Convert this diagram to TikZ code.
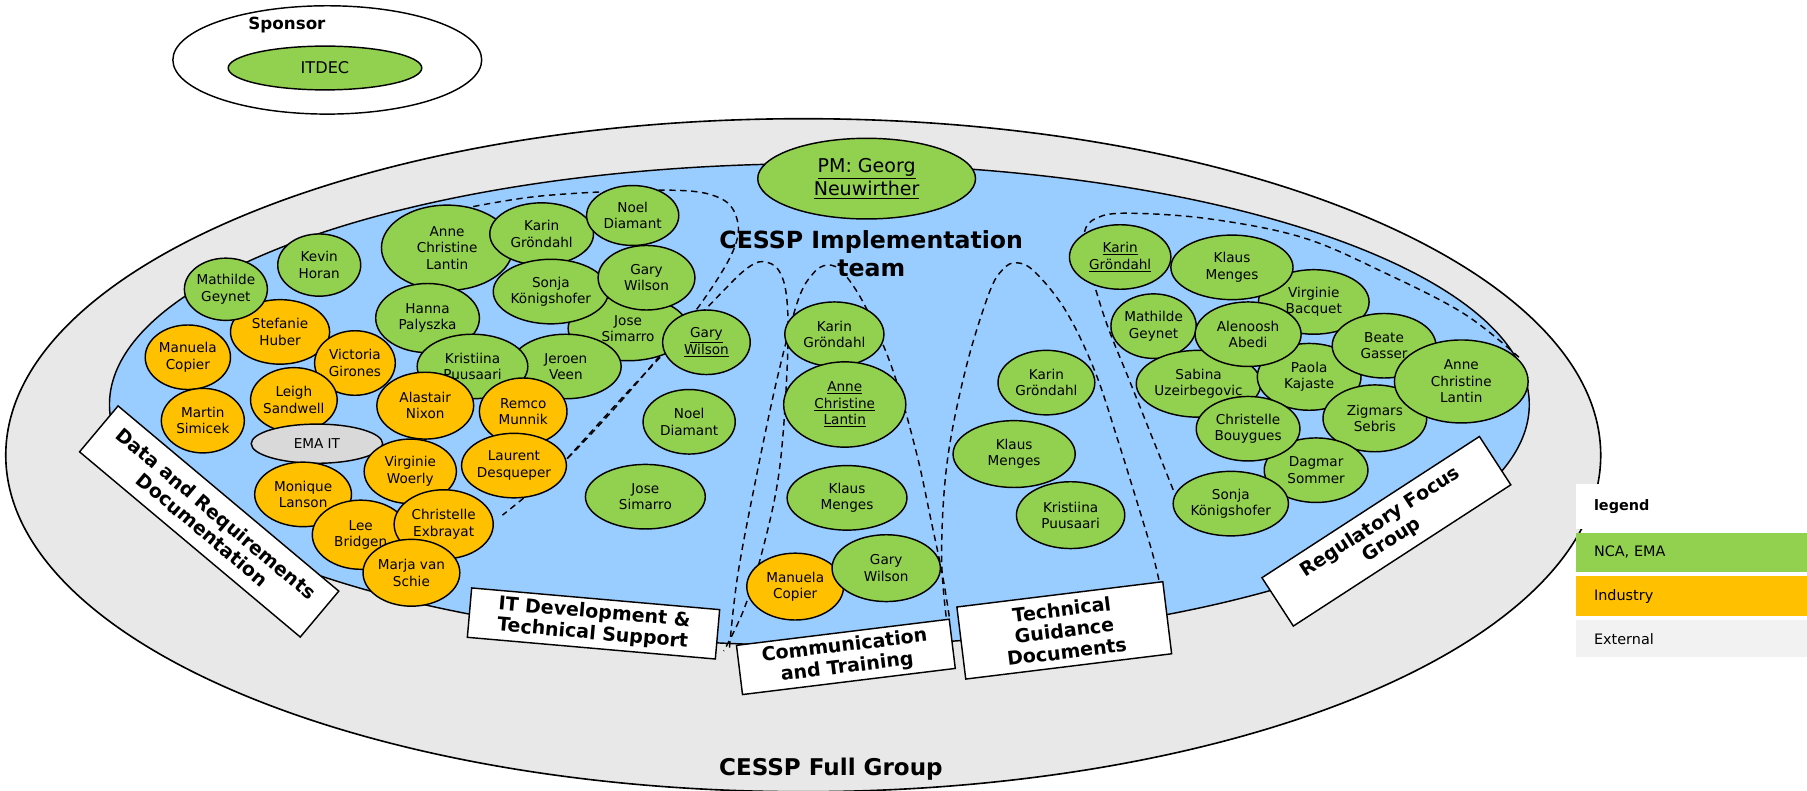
\documentclass[tikz,border=0pt]{standalone}
\usepackage{fontspec}
\setmainfont{DejaVu Sans}
\usetikzlibrary{shapes.geometric}
\definecolor{grn}{HTML}{92D050}
\definecolor{org}{HTML}{FFC000}
\definecolor{blu}{HTML}{99CCFF}
\definecolor{outg}{HTML}{E8E8E8}
\definecolor{emag}{HTML}{D9D9D9}
\definecolor{extg}{HTML}{F2F2F2}
\newcommand{\mkp}[7]{\node[pers,fill=#2,minimum width=#5pt,minimum height=#6pt] (#1) at (#3,#4) {#7};}
\begin{document}
\begin{tikzpicture}[x=1pt,y=-1pt,
  pers/.style={ellipse,draw,line width=1.25pt,inner sep=0pt,align=center,font=\fontsize{11.8}{14.2}\selectfont},
  lbl/.style={draw,fill=white,line width=1.25pt,inner sep=0pt,align=center,font=\bfseries\fontsize{16.5}{18.5}\selectfont},
  dline/.style={dashed,dash pattern=on 5.5pt off 4pt,line width=1.25pt},
  legcell/.style={anchor=north west,inner xsep=16pt,inner ysep=0pt,text width=169pt,align=left,minimum height=34pt,font=\fontsize{12.5}{15}\selectfont}]
\useasboundingbox (0,0) rectangle (1568,686);
% sponsor
\node[ellipse,draw,line width=1.25pt,fill=white,minimum width=268pt,minimum height=94pt] (sponsor) at (284,52) {};
\node[font=\bfseries\fontsize{14.5}{16}\selectfont] (sponsort) at (249,22) {Sponsor};
\node[pers,fill=grn,minimum width=168pt,minimum height=38pt,font=\fontsize{14}{16}\selectfont] (itdec) at (282,59) {ITDEC};
% big ellipses
\draw[fill=outg,line width=1.4pt] (697,395) ellipse [x radius=692, y radius=292];
\draw[fill=blu,line width=1.25pt] (711,351) ellipse [x radius=616, y radius=209];
% dashed outlines
\draw[dline] plot[smooth,tension=0.6] coordinates {(392,183) (470,170) (580,165) (625,172) (640,192) (636,218) (612,258) (578,302) (530,358) (480,410) (436,447)};
\draw[dline] plot[smooth,tension=0.6] coordinates {(492,398) (540,345) (590,292) (628,252) (648,233) (662,227) (676,235) (683,262) (683,320) (676,410) (661,480) (645,530) (628,565)};
\draw[dline] plot[smooth,tension=0.6] coordinates {(633,562) (640,500) (655,420) (674,330) (692,262) (705,238) (718,230) (732,237) (752,268) (775,322) (795,392) (808,452) (818,500) (824,537)};
\draw[dline] plot[smooth,tension=0.6] coordinates {(821,535) (817,480) (822,400) (838,320) (858,255) (870,234) (882,228) (898,236) (925,270) (950,322) (970,382) (988,440) (1000,480) (1006,505)};
\draw[dline] plot[smooth,tension=0.6] coordinates {(1018,425) (1000,380) (980,330) (960,280) (945,230) (941,202) (952,189) (980,185) (1050,190) (1130,206) (1200,236) (1270,272) (1318,310)};
% PM and titles
\node[pers,fill=grn,minimum width=189pt,minimum height=70pt,font=\fontsize{16.5}{20}\selectfont] (pm) at (752,155) {\underline{PM: Georg}\\\underline{Neuwirther}};
\node[font=\bfseries\fontsize{20.5}{24}\selectfont,align=center] (title) at (756,220) {CESSP Implementation\\team};
\node[font=\bfseries\fontsize{20}{24}\selectfont] (fulltitle) at (721,667) {CESSP Full Group};
% Data and Requirements cluster
\mkp{d12}{org}{243}{288}{86}{56}{Stefanie\\Huber}
\mkp{d2}{grn}{277}{230}{72}{54}{Kevin\\Horan}
\mkp{d1}{grn}{196}{251}{72}{54}{Mathilde\\Geynet}
\mkp{d13}{org}{163}{310}{74}{56}{Manuela\\Copier}
\mkp{d14}{org}{308}{315}{70}{56}{Victoria\\Girones}
\mkp{d15}{org}{255}{347}{74}{56}{Leigh\\Sandwell}
\mkp{d16}{org}{176}{365}{72}{56}{Martin\\Simicek}
\mkp{d3}{grn}{388}{215}{114}{74}{Anne\\Christine\\Lantin}
\mkp{d4}{grn}{470}{203}{90}{54}{Karin\\Gröndahl}
\mkp{d5}{grn}{549}{187}{80}{52}{Noel\\Diamant}
\mkp{d8}{grn}{371}{276}{90}{60}{Hanna\\Palyszka}
\mkp{d9}{grn}{545}{285}{104}{56}{Jose\\Simarro}
\mkp{d7}{grn}{478}{253}{100}{56}{Sonja\\Königshofer}
\mkp{d6}{grn}{561}{241}{84}{56}{Gary\\Wilson}
\mkp{d11}{grn}{491}{318}{96}{56}{Jeroen\\Veen}
\mkp{d10}{grn}{410}{318}{96}{56}{Kristiina\\Puusaari}
\mkp{d17}{org}{369}{352}{84}{58}{Alastair\\Nixon}
\mkp{d18}{org}{454}{357}{76}{58}{Remco\\Munnik}
\mkp{d19}{emag}{275}{385}{114}{34}{EMA IT}
\mkp{d21}{org}{356}{409}{80}{56}{Virginie\\Woerly}
\mkp{d22}{org}{446}{404}{90}{56}{Laurent\\Desqueper}
\mkp{d20}{org}{263}{429}{84}{56}{Monique\\Lanson}
\mkp{d23}{org}{313}{464}{84}{60}{Lee\\Bridgen}
\mkp{d24}{org}{385}{455}{86}{60}{Christelle\\Exbrayat}
\mkp{d25}{org}{357}{497}{84}{58}{Marja van\\Schie}
% IT development cluster
\mkp{i1}{grn}{613}{297}{76}{56}{\underline{Gary}\\\underline{Wilson}}
\mkp{i2}{grn}{598}{366}{80}{56}{Noel\\Diamant}
\mkp{i3}{grn}{560}{431}{104}{56}{Jose\\Simarro}
% Communication cluster
\mkp{c1}{grn}{724}{290}{86}{56}{Karin\\Gröndahl}
\mkp{c2}{grn}{733}{351}{106}{74}{\underline{Anne}\\\underline{Christine}\\\underline{Lantin}}
\mkp{c3}{grn}{735}{432}{104}{56}{Klaus\\Menges}
\mkp{c4}{org}{690}{509}{84}{58}{Manuela\\Copier}
\mkp{c5}{grn}{769}{493}{94}{58}{Gary\\Wilson}
% Technical guidance cluster
\mkp{t1}{grn}{908}{332}{84}{56}{Karin\\Gröndahl}
\mkp{t2}{grn}{880}{394}{106}{58}{Klaus\\Menges}
\mkp{t3}{grn}{929}{447}{94}{58}{Kristiina\\Puusaari}
% Regulatory cluster
\mkp{r3}{grn}{1140}{262}{96}{56}{Virginie\\Bacquet}
\mkp{r2}{grn}{1069}{232}{106}{56}{Klaus\\Menges}
\mkp{r1}{grn}{972}{223}{88}{56}{\underline{Karin}\\\underline{Gröndahl}}
\mkp{r4}{grn}{1001}{283}{74}{56}{Mathilde\\Geynet}
\mkp{r6}{grn}{1040}{333}{106}{58}{Sabina\\Uzeirbegovic}
\mkp{r7}{grn}{1136}{327}{90}{58}{Paola\\Kajaste}
\mkp{r10}{grn}{1193}{363}{90}{58}{Zigmars\\Sebris}
\mkp{r5}{grn}{1083}{290}{92}{56}{Alenoosh\\Abedi}
\mkp{r8}{grn}{1201}{300}{90}{56}{Beate\\Gasser}
\mkp{r9}{grn}{1268}{331}{116}{72}{Anne\\Christine\\Lantin}
\mkp{r12}{grn}{1142}{408}{90}{56}{Dagmar\\Sommer}
\mkp{r11}{grn}{1083}{372}{90}{56}{Christelle\\Bouygues}
\mkp{r13}{grn}{1068}{437}{100}{56}{Sonja\\Königshofer}
% label boxes
\node[lbl,rotate=-40,minimum width=250pt,minimum height=52pt] (ldata) at (181.5,452.5) {Data and Requirements\\Documentation};
\node[lbl,rotate=-5,minimum width=216pt,minimum height=43pt] (lit) at (515,541) {IT Development \&\\Technical Support};
\node[lbl,rotate=7,minimum width=186pt,minimum height=43pt] (lcomm) at (734,570) {Communication\\and Training};
\node[lbl,rotate=7,minimum width=180pt,minimum height=63pt] (ltgd) at (923.5,547) {Technical\\Guidance\\Documents};
\node[lbl,rotate=33,minimum width=225pt,minimum height=50pt] (lreg) at (1203,461) {Regulatory Focus\\Group};
% legend
\node[legcell,fill=white,minimum height=39pt,font=\bfseries\fontsize{12.5}{15}\selectfont] (leg0) at (1367,420) {legend};
\node[legcell,fill=grn] (leg1) at (1367,462) {NCA, EMA};
\node[legcell,fill=org] (leg2) at (1367,500) {Industry};
\node[legcell,fill=extg,minimum height=32pt] (leg3) at (1367,538) {External};
\end{tikzpicture}
\end{document}
